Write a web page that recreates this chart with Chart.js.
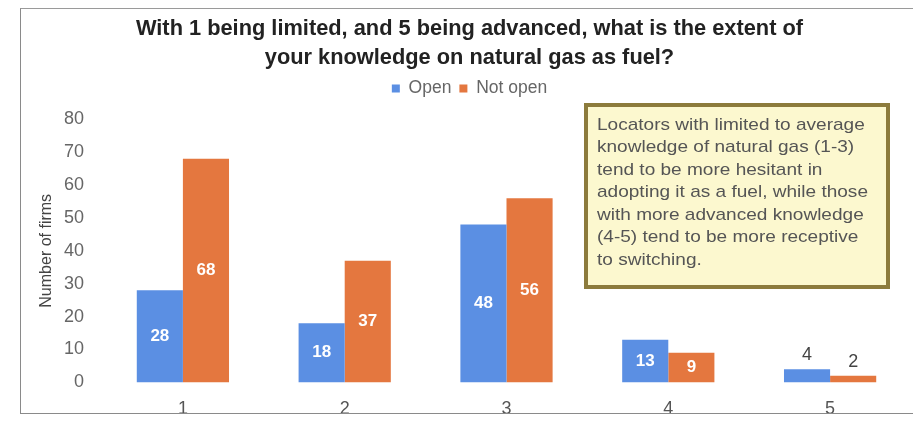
<!DOCTYPE html>
<html>
<head>
<meta charset="utf-8">
<script src="https://cdn.jsdelivr.net/npm/chart.js@4"></script>
<style>
  html, body { margin: 0; padding: 0; background: #fff; }
  #wrap { position: relative; width: 913px; height: 424px; }
  #frame {
    position: absolute; left: 20px; top: 8px; width: 900px; height: 404px;
    border-left: 1px solid #8a8a8a; border-top: 1px solid #9a9a9a; border-bottom: 1px solid #8a8a8a;
    pointer-events: none;
  }
</style>
</head>
<body>
<div id="wrap">
  <canvas id="chart" width="913" height="424"></canvas>
  <div id="frame"></div>
</div>
<script>
const categorias = ['1', '2', '3', '4', '5'];
const abiertas = [28, 18, 48, 13, 4];
const noAbiertas = [68, 37, 56, 9, 2];
const nota = [
  'Locators with limited to average',
  'knowledge of natural gas (1-3)',
  'tend to be more hesitant in',
  'adopting it as a fuel, while those',
  'with more advanced knowledge',
  '(4-5) tend to be more receptive',
  'to switching.'
];

const AZUL = '#5b8fe3';
const NARANJA = '#e4773f';
const FUENTE = '"Liberation Sans", Arial, sans-serif';

// Etiquetas de valor: dentro de la barra si cabe, encima si no
const etiquetasBarras = {
  id: 'etiquetasBarras',
  afterDatasetsDraw(chart) {
    const ctx = chart.ctx;
    ctx.save();
    ctx.textAlign = 'center';
    ctx.textBaseline = 'middle';
    chart.data.datasets.forEach((ds, i) => {
      chart.getDatasetMeta(i).data.forEach((bar, j) => {
        const alto = bar.base - bar.y;
        if (alto > 20) {
          ctx.fillStyle = '#ffffff';
          ctx.font = 'bold 17px ' + FUENTE;
          ctx.fillText(ds.data[j], bar.x, bar.y + alto / 2);
        } else {
          ctx.fillStyle = '#444';
          ctx.font = '18px ' + FUENTE;
          ctx.fillText(ds.data[j], bar.x, bar.y - 14);
        }
      });
    });
    ctx.restore();
  }
};

// Recuadro con el comentario (texto algo ensanchado)
const recuadro = {
  id: 'recuadro',
  afterDraw(chart) {
    const ctx = chart.ctx;
    const x = 586, y = 105, w = 302, h = 182;
    ctx.save();
    ctx.fillStyle = '#fcf8cf';
    ctx.fillRect(x, y, w, h);
    ctx.strokeStyle = '#8c7b3c';
    ctx.lineWidth = 4;
    ctx.strokeRect(x, y, w, h);
    ctx.fillStyle = '#555';
    ctx.font = '17px ' + FUENTE;
    ctx.textBaseline = 'middle';
    ctx.translate(x + 11, 0);
    ctx.scale(1.12, 1);
    nota.forEach((linea, i) => ctx.fillText(linea, 0, y + 20 + i * 22.5));
    ctx.restore();
  }
};

// Deja algo más de aire entre la leyenda y el área del gráfico
const espacioLeyenda = {
  id: 'espacioLeyenda',
  beforeLayout(chart) {
    const leyenda = chart.legend;
    if (leyenda && !leyenda._ajustada) {
      const fitOriginal = leyenda.fit;
      leyenda.fit = function () {
        fitOriginal.call(this);
        this.height += 12;
      };
      leyenda._ajustada = true;
    }
  }
};

const grafico = document.getElementById('chart').getContext('2d');
let chart = new Chart(grafico, {
  type: 'bar',
  data: {
    labels: categorias,
    datasets: [
      { label: 'Open', data: abiertas, backgroundColor: AZUL },
      { label: 'Not open', data: noAbiertas, backgroundColor: NARANJA }
    ]
  },
  options: {
    responsive: false,
    animation: false,
    layout: { padding: { left: 28, right: 2, top: 12, bottom: -12 } },
    datasets: { bar: { categoryPercentage: 0.57, barPercentage: 1 } },
    plugins: {
      title: {
        display: true,
        text: ['With 1 being limited, and 5 being advanced, what is the extent of', 'your knowledge on natural gas as fuel?'],
        color: '#222',
        font: { family: FUENTE, size: 21.8, weight: 'bold', lineHeight: 1.3 },
        padding: { top: 3, bottom: 0 }
      },
      legend: {
        labels: {
          boxWidth: 8, boxHeight: 8,
          color: '#666',
          font: { family: FUENTE, size: 17.5 },
          padding: 8
        }
      },
      tooltip: { enabled: false }
    },
    scales: {
      x: {
        grid: { display: false, drawTicks: false },
        border: { display: false },
        ticks: { color: '#555', padding: 16, font: { family: FUENTE, size: 18 } }
      },
      y: {
        min: 0, max: 80,
        grid: { display: false, drawTicks: false },
        border: { display: false },
        ticks: { stepSize: 10, color: '#666', padding: 18, font: { family: FUENTE, size: 18 } },
        title: {
          display: true, text: 'Number of firms', color: '#444',
          font: { family: FUENTE, size: 16 },
          padding: { top: 9, bottom: 0 }
        },
        afterFit(scale) { scale.width = 74; }
      }
    }
  },
  plugins: [etiquetasBarras, recuadro, espacioLeyenda]
});
</script>
</body>
</html>
